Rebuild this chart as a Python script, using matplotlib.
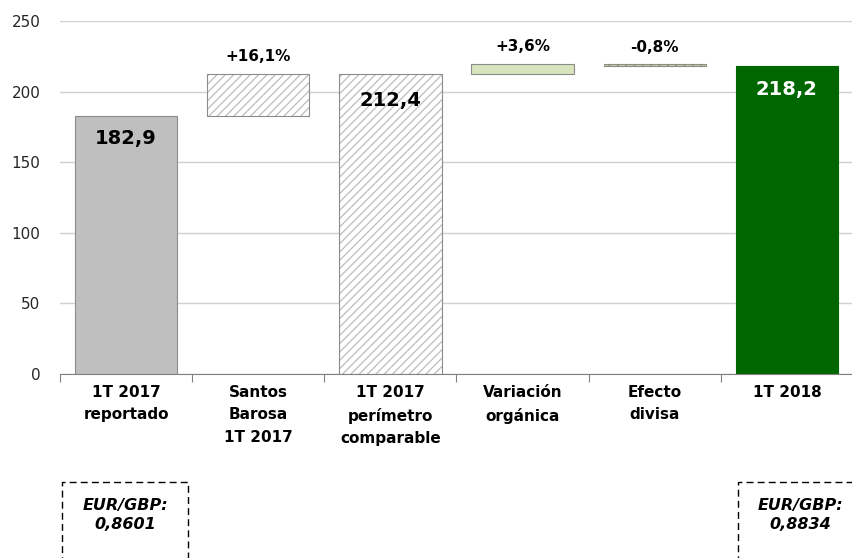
import matplotlib.pyplot as plt
from matplotlib.patches import Rectangle

plt.rcParams['font.family'] = ['DejaVu Sans']
plt.rcParams['hatch.linewidth'] = 0.9

categorias = ['1T 2017\nreportado', 'Santos\nBarosa\n1T 2017', '1T 2017\nperímetro\ncomparable',
              'Variación\norgánica', 'Efecto\ndivisa', '1T 2018']
base = [0, 182.9, 0, 212.4, 218.2, 0]
altura = [182.9, 29.5, 212.4, 7.6, 1.8, 218.2]
etiquetas = ['182,9', '+16,1%', '212,4', '+3,6%', '-0,8%', '218,2']
cambio_divisa = ['EUR/GBP:\n0,8601', 'EUR/GBP:\n0,8834']

fig = plt.figure(figsize=(8.53, 5.58), dpi=100)
ax = fig.add_axes([0.0703, 0.330, 0.9297, 0.632])

w = 0.775
ax.bar(0, altura[0], w, bottom=base[0], color='#bfbfbf', edgecolor='#8c8c8c', lw=0.8, zorder=2)
# barras rayadas: relleno con rayas claras + contorno
for i in [1, 2]:
    ax.bar(i, altura[i], w, bottom=base[i], color='white', edgecolor='#bcbcbc', hatch='////', lw=0, zorder=2)
    ax.bar(i, altura[i], w, bottom=base[i], fill=False, edgecolor='#8c8c8c', lw=0.8, zorder=3)
ax.bar(3, altura[3], w, bottom=base[3], color='#d8e4bc', edgecolor='#8c8c8c', lw=0.8, zorder=2)
ax.bar(4, altura[4], w, bottom=base[4], color='#c4d79b', edgecolor='#8c8c8c', hatch='////', lw=0.8, zorder=2)
ax.bar(5, altura[5], w, bottom=base[5], color='#006600', edgecolor='#006600', lw=0.8, zorder=2)

# etiquetas de valor
ax.text(0, 167, etiquetas[0], ha='center', va='center', fontsize=14, fontweight='bold', zorder=5)
ax.text(2, 194, etiquetas[2], ha='center', va='center', fontsize=14, fontweight='bold', zorder=5)
ax.text(5, 201.5, etiquetas[5], ha='center', va='center', fontsize=14, fontweight='bold', color='white', zorder=5)
ax.text(1, base[1] + altura[1] + 7, etiquetas[1], ha='center', va='bottom', fontsize=11, fontweight='bold')
ax.text(3, base[3] + altura[3] + 7, etiquetas[3], ha='center', va='bottom', fontsize=11, fontweight='bold')
ax.text(4, base[4] + altura[4] + 6, etiquetas[4], ha='center', va='bottom', fontsize=11, fontweight='bold')

ax.set_ylim(0, 250)
ax.set_xlim(-0.5, 5.41)
ax.set_yticks(range(0, 251, 50))
ax.tick_params(axis='y', length=0, labelsize=11, colors='#262626', pad=14)
ax.yaxis.grid(True, color='#d0d0d0', lw=1, zorder=0)
ax.set_axisbelow(True)
ax.set_xticks([i + 0.5 for i in range(-1, 6)])
ax.set_xticklabels([])
ax.tick_params(axis='x', length=6, color='#808080', direction='out')
for i, c in enumerate(categorias):
    ax.text(i, -8, c, ha='center', va='top', fontsize=11, fontweight='bold', linespacing=1.6)
for s in ['top', 'right', 'left']:
    ax.spines[s].set_visible(False)
ax.spines['bottom'].set_color('#808080')

# recuadros tipo de cambio
for (x0, x1), txt in zip([(62, 188), (738, 870)], cambio_divisa):
    r = Rectangle((x0 / 853, -0.02), (x1 - x0) / 853, (558 - 482) / 558 + 0.02,
                  transform=fig.transFigure, fill=False, ls=(0, (5, 3)), lw=1, ec='black')
    fig.patches.append(r)
    fig.text((x0 + min(x1, 853) + 10 * (x1 > 853)) / 2 / 853, 1 - 515 / 558, txt, ha='center', va='center',
             fontsize=11.5, fontweight='bold', style='italic', linespacing=1.4)

fig.savefig('out.png', dpi=100)
